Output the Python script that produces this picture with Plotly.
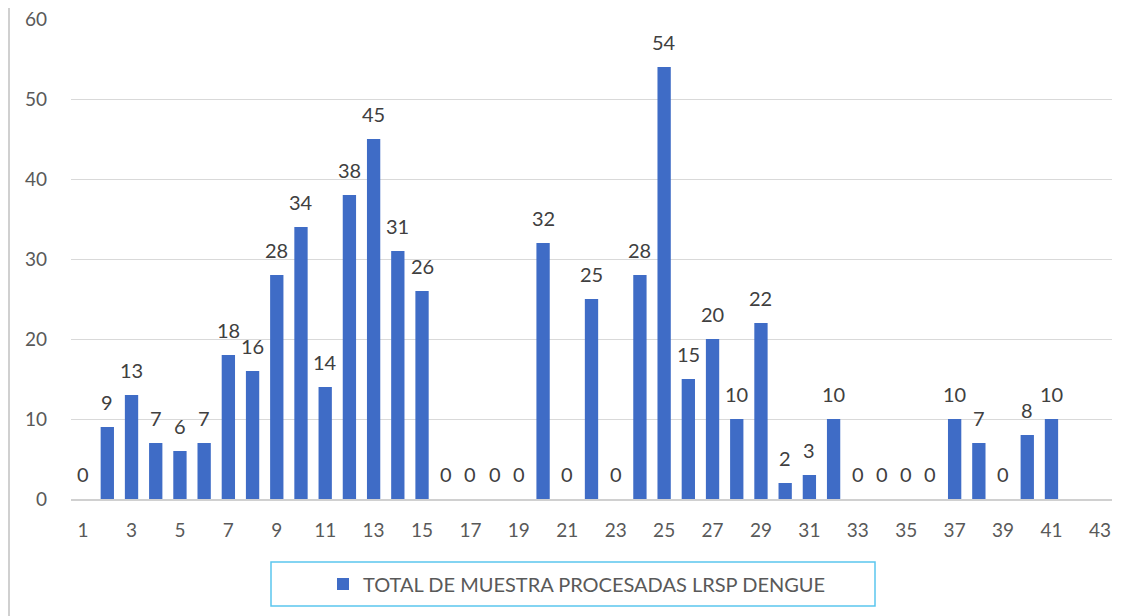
import plotly.graph_objects as go

categories = list(range(1, 44))
values = [0, 9, 13, 7, 6, 7, 18, 16, 28, 34, 14, 38, 45, 31, 26,
          0, 0, 0, 0, 32, 0, 25, 0, 28, 54, 15, 20, 10, 22, 2,
          3, 10, 0, 0, 0, 0, 10, 7, 0, 8, 10, None, None]
series_name = "TOTAL DE MUESTRA PROCESADAS LRSP DENGUE"

W, H = 1130, 616
OFF = 8  # page body margin
ml, mt = 71 - OFF, 19 - OFF
pw, ph = 1041, 480
mr = W - ml - pw
mb = H - mt - ph

fig = go.Figure()
fig.add_trace(go.Bar(
    x=categories, y=values, name=series_name,
    width=0.55,
    marker=dict(color="#3F6CC6", line=dict(width=0)),
    showlegend=True,
    hoverinfo="x+y",
))

annotations = [
    dict(x=c, y=v, xref="x", yref="y", text=str(v), showarrow=False,
         yanchor="bottom", yshift=11,
         font=dict(family="Lato, Open Sans, sans-serif", size=20, color="#404040"))
    for c, v in zip(categories, values) if v is not None
]

def px_x(p):
    return (p - OFF - ml) / pw

def px_y(p):
    return 1 - (p - OFF - mt) / ph

fig.update_layout(
    width=W, height=H,
    margin=dict(l=ml, r=mr, t=mt, b=mb, autoexpand=False),
    paper_bgcolor="white", plot_bgcolor="white",
    font=dict(family="Lato, Open Sans, sans-serif", color="#595959"),
    xaxis=dict(range=[0.5, 43.5], tickmode="linear", tick0=1, dtick=2,
               showgrid=False, showline=True, linecolor="#d0d0d0", linewidth=1.5,
               ticks="", tickfont=dict(size=19, color="#595959"),
               ticklabelstandoff=13, zeroline=False, automargin=False,
               ticklabeloverflow="allow"),
    yaxis=dict(range=[0, 60.01], tickmode="linear", tick0=0, dtick=10,
               showgrid=True, gridcolor="#d9d9d9",
               gridwidth=1, zeroline=False, showline=False, ticks="",
               tickfont=dict(size=19, color="#595959"), ticklabelstandoff=23,
               automargin=False, ticklabeloverflow="allow"),
    legend=dict(orientation="h", x=px_x(577), xanchor="center", y=px_y(584),
                yanchor="middle", bgcolor="rgba(0,0,0,0)",
                font=dict(size=20, color="#595959"), itemwidth=30),
    annotations=annotations,
    shapes=[
        dict(type="rect", xref="paper", yref="paper",
             x0=px_x(271), x1=px_x(875), y0=px_y(562), y1=px_y(606),
             line=dict(color="#5BC6EE", width=1.5), fillcolor="rgba(0,0,0,0)"),
        dict(type="line", xref="paper", yref="paper",
             x0=px_x(9), x1=px_x(9), y0=px_y(8), y1=px_y(624),
             line=dict(color="#d0d0d0", width=2)),
    ],
)

fig.write_html("out.html")
